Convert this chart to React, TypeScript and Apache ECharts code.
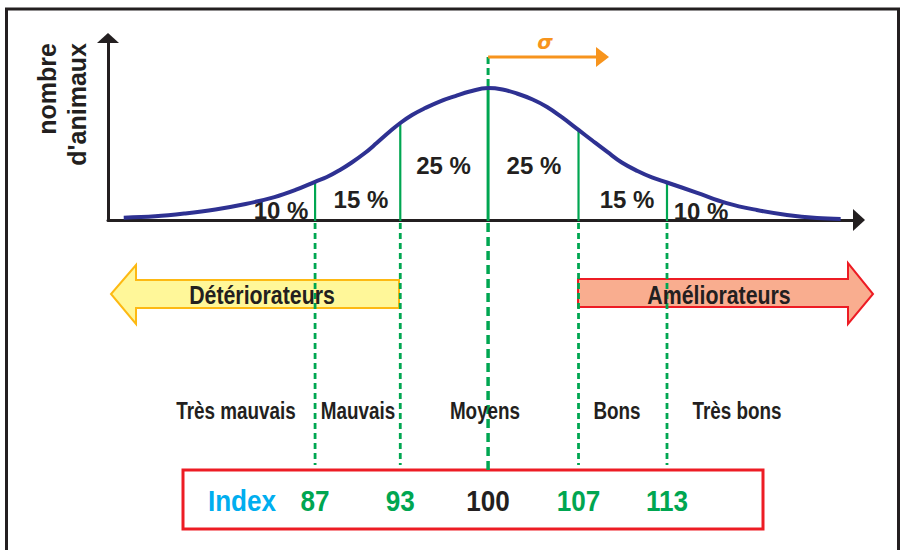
import React, { useEffect, useRef } from "react";
import * as echarts from "echarts";

// Bell curve (x: index scale, y: relative number of animals)
const curveX = [72.2, 74.6, 76.9, 79.2, 81.5, 83.7, 85.3, 86.8, 87.7, 88.7, 89.6, 90.6, 91.5, 92.5, 93.3, 94.2, 95.2, 96.3, 97.5, 98.6, 100, 101.1, 102.2, 103.4, 104.5, 105.6, 106.9, 108.0, 109.1, 110.2, 111.4, 112.5, 113.65, 115.9, 118.2, 120.5, 122.8, 125.1, 126.9];
const curveY = [1.3, 2.0, 3.6, 5.8, 8.8, 12.6, 16.5, 21.0, 23.6, 27.5, 31.6, 36.8, 42.3, 48.6, 53.3, 57.7, 61.5, 65.1, 68.1, 70.6, 72.5, 71.7, 69.5, 66.2, 62.1, 56.6, 49.5, 43.4, 37.4, 31.6, 26.9, 23.4, 20.6, 15.1, 9.3, 5.5, 2.8, 1.1, 0.6];

// class boundaries (green lines) and their index labels
const boundaries = [86.8, 93.3, 100, 106.9, 113.65];
const indexLabels = ["87", "93", "100", "107", "113"];

// share of animals in each area
const shareLabels = ["10 %", "15 %", "25 %", "25 %", "15 %", "10 %"];
const shareX = [84.2, 90.3, 96.6, 103.5, 110.6, 116.25];
const shareY = [5.0, 11.5, 30.2, 30.2, 11.5, 4.4];

const classLabels = ["Très mauvais", "Mauvais", "Moyens", "Bons", "Très bons"];
const yTitle = "nombre\nd'animaux";
const leftArrowLabel = "Détériorateurs";
const rightArrowLabel = "Améliorateurs";
const indexTitle = "Index";
const sigmaLabel = "σ";

const SANS = '"Liberation Sans", Arial, sans-serif';
const DARK = "#231F20";
const GREEN = "#00A651";

export default function App() {
  const ref = useRef<HTMLDivElement>(null);
  useEffect(() => {
    if (!ref.current) return;
    const chart = echarts.init(ref.current, null, { renderer: "svg" });
    const heightAt = (b: number) => curveY[curveX.indexOf(b)];
    const classX = [236, 358, 485, 617, 737];

    const option: any = {
      animation: false,
      backgroundColor: "#ffffff",
      grid: { left: 108, right: 44, top: 38, bottom: 330, containLabel: false },
      xAxis: {
        type: "value",
        min: 71,
        max: 128.3,
        axisLine: { show: true, symbol: ["none", "triangle"], symbolSize: [22, 12], lineStyle: { color: DARK, width: 3 } },
        axisTick: { show: false },
        axisLabel: { show: false },
        splitLine: { show: false },
      },
      yAxis: {
        type: "value",
        min: 0,
        max: 100,
        axisLine: { show: true, symbol: ["none", "triangle"], symbolSize: [22, 10], lineStyle: { color: DARK, width: 3 } },
        axisTick: { show: false },
        axisLabel: { show: false },
        splitLine: { show: false },
      },
      series: [
        {
          type: "custom",
          z: 1,
          data: shareX.map((x, i) => [x, shareY[i]]),
          renderItem: (params: any, api: any) => {
            const p = api.coord([api.value(0), api.value(1)]);
            return {
              type: "text",
              x: p[0],
              y: p[1],
              style: {
                text: shareLabels[params.dataIndex],
                fill: DARK,
                font: `bold 24px ${SANS}`,
                align: "center",
                verticalAlign: "middle",
              },
            };
          },
        },
        {
          type: "custom",
          z: 2,
          data: boundaries.map((b) => [b, heightAt(b)]),
          renderItem: (params: any, api: any) => {
            const i = params.dataIndex;
            const bx = api.value(0);
            const h = api.value(1);
            const base = api.coord([bx, 0]);
            const top = api.coord([bx, h]);
            const center = i === 2;
            const children: any[] = [
              {
                type: "line",
                shape: { x1: top[0], y1: top[1], x2: base[0], y2: base[1] + 1 },
                style: { stroke: GREEN, lineWidth: center ? 3 : 2.2 },
              },
              {
                type: "line",
                shape: { x1: base[0], y1: base[1] + 3, x2: base[0], y2: center ? 470 : 465 },
                style: { stroke: GREEN, lineWidth: center ? 3.5 : 2.8, lineDash: center ? [9, 5] : [6, 4] },
              },
              {
                type: "text",
                x: base[0],
                y: 501,
                scaleX: 0.87,
                style: {
                  text: indexLabels[i],
                  fill: center ? DARK : GREEN,
                  font: `bold 30px ${SANS}`,
                  align: "center",
                  verticalAlign: "middle",
                },
              },
            ];
            if (center) {
              children.push(
                {
                  type: "line",
                  shape: { x1: top[0], y1: 57, x2: top[0], y2: top[1] - 2 },
                  style: { stroke: GREEN, lineWidth: 3, lineDash: [7, 4] },
                },
                {
                  type: "line",
                  shape: { x1: top[0], y1: 57, x2: 598, y2: 57 },
                  style: { stroke: "#F7941D", lineWidth: 3 },
                },
                {
                  type: "polygon",
                  shape: { points: [[596, 47], [609, 57], [596, 67]] },
                  style: { fill: "#F7941D" },
                },
                {
                  type: "text",
                  x: 545,
                  y: 42,
                  style: {
                    text: sigmaLabel,
                    fill: "#F7941D",
                    font: 'italic bold 20px "DejaVu Sans", sans-serif',
                    align: "center",
                    verticalAlign: "middle",
                  },
                }
              );
            }
            return { type: "group", children };
          },
        },
        {
          type: "line",
          z: 3,
          smooth: 0.4,
          symbol: "none",
          lineStyle: { color: "#2E3192", width: 4 },
          data: curveX.map((x, i) => [x, curveY[i]]),
        },
      ],
      graphic: [
        {
          type: "rect",
          shape: { x: 6.5, y: 9, width: 892, height: 560 },
          style: { fill: "none", stroke: DARK, lineWidth: 3 },
        },
        {
          type: "text",
          x: 62,
          y: 43,
          rotation: Math.PI / 2,
          style: {
            text: yTitle,
            fill: DARK,
            font: `bold 25px ${SANS}`,
            lineHeight: 30,
            align: "right",
            verticalAlign: "middle",
          },
        },
        {
          type: "polygon",
          shape: { points: [[399, 280], [136, 280], [136, 265], [111, 294], [136, 324], [136, 308], [399, 308]] },
          style: { fill: "#FFF799", stroke: "#FDB913", lineWidth: 2 },
        },
        {
          type: "polygon",
          shape: { points: [[578, 279], [848, 279], [848, 263], [873, 294], [848, 324], [848, 307], [578, 307]] },
          style: { fill: "#F9AD8F", stroke: "#ED1C24", lineWidth: 2 },
        },
        {
          type: "text",
          z: 100,
          x: 262,
          y: 295,
          scaleX: 0.82,
          style: { text: leftArrowLabel, fill: DARK, font: `bold 26px ${SANS}`, align: "center", verticalAlign: "middle" },
        },
        {
          type: "text",
          z: 100,
          x: 719,
          y: 295,
          scaleX: 0.82,
          style: { text: rightArrowLabel, fill: DARK, font: `bold 26px ${SANS}`, align: "center", verticalAlign: "middle" },
        },
        ...classLabels.map((t, i) => ({
          type: "text",
          z: 100,
          x: classX[i],
          y: 411,
          scaleX: 0.82,
          style: { text: t, fill: DARK, font: `bold 23px ${SANS}`, align: "center", verticalAlign: "middle" },
        })),
        {
          type: "rect",
          shape: { x: 183, y: 470, width: 580, height: 59 },
          style: { fill: "none", stroke: "#ED1C24", lineWidth: 3 },
        },
        {
          type: "text",
          z: 100,
          x: 242,
          y: 501,
          scaleX: 0.87,
          style: { text: indexTitle, fill: "#00AEEF", font: `bold 30px ${SANS}`, align: "center", verticalAlign: "middle" },
        },
      ],
    };
    chart.setOption(option);
    return () => chart.dispose();
  }, []);
  return <div ref={ref} style={{ position: "fixed", left: 0, top: 0, width: 903, height: 550 }} />;
}
